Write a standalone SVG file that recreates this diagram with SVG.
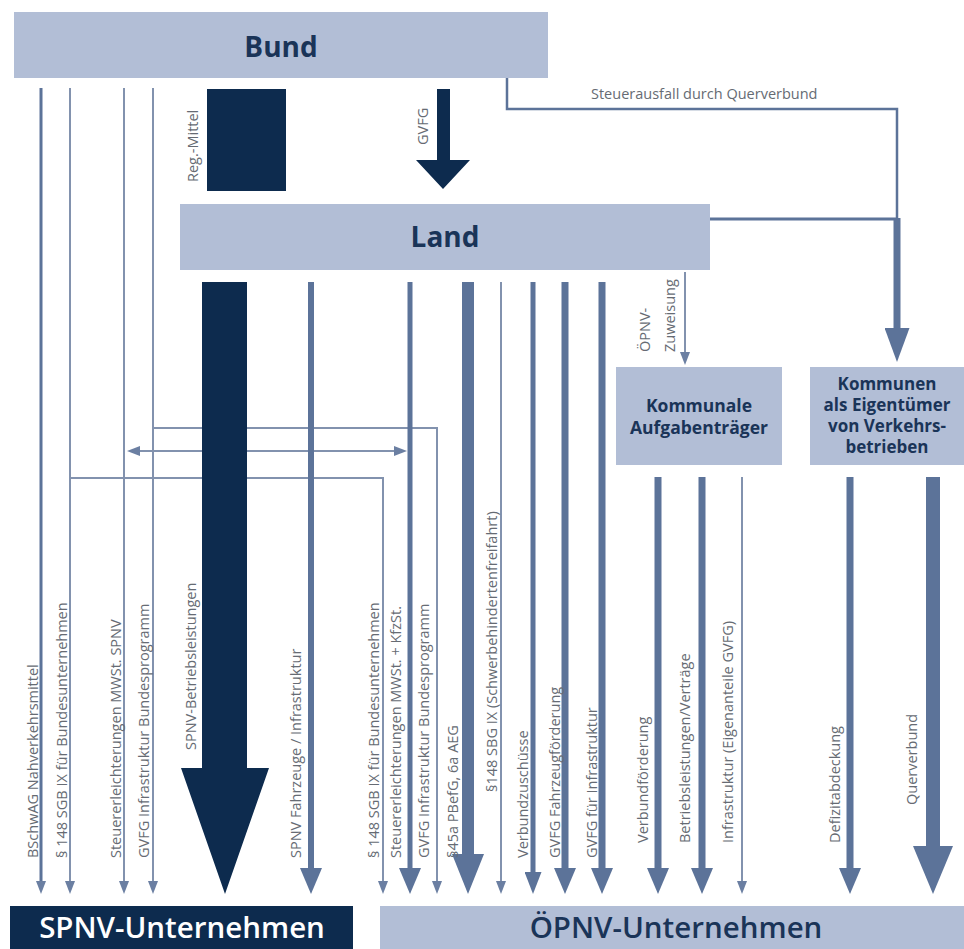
<svg xmlns="http://www.w3.org/2000/svg" width="964" height="949" viewBox="0 0 964 949">
<defs>
<style>
.box{fill:#b2bed6}
.dark{fill:#0d2b4e}
.bt{font-family:"Open Sans","Liberation Sans",sans-serif;font-weight:700;fill:#1a3458;text-anchor:middle}
.lbl{font-family:"Open Sans","Liberation Sans",sans-serif;font-size:14.5px;fill:#666b73}
.ln{stroke:#5c7399;fill:none}
.th{stroke:#8292ae;fill:none;stroke-width:2}
</style>
<marker id="ms" viewBox="0 -5 13 10" refX="0" refY="0" markerWidth="13" markerHeight="10" markerUnits="userSpaceOnUse" orient="auto-start-reverse"><path d="M0,-5L13,0L0,5z" fill="#6b7fa2"/></marker>
<marker id="mm" viewBox="0 -11 26 22" refX="0" refY="0" markerWidth="26" markerHeight="22" markerUnits="userSpaceOnUse" orient="auto"><path d="M0,-11L26,0L0,11z" fill="#5c7399"/></marker>
<marker id="mv" viewBox="0 -8.5 22 17" refX="0" refY="0" markerWidth="22" markerHeight="17" markerUnits="userSpaceOnUse" orient="auto"><path d="M0,-8.5L22,0L0,8.5z" fill="#5c7399"/></marker>
<marker id="mk" viewBox="0 -12.5 34 25" refX="0" refY="0" markerWidth="34" markerHeight="25" markerUnits="userSpaceOnUse" orient="auto"><path d="M0,-12.5L34,0L0,12.5z" fill="#5c7399"/></marker>
<marker id="ml" viewBox="0 -16 40 32" refX="0" refY="0" markerWidth="40" markerHeight="32" markerUnits="userSpaceOnUse" orient="auto"><path d="M0,-16L40,0L0,16z" fill="#5c7399"/></marker>
<marker id="mx" viewBox="0 -20 48 40" refX="0" refY="0" markerWidth="48" markerHeight="40" markerUnits="userSpaceOnUse" orient="auto"><path d="M0,-20L48,0L0,20z" fill="#5c7399"/></marker>
</defs>
<rect width="964" height="949" fill="#ffffff"/>

<g id="connectors">
  <path class="th" d="M153,428 H437 V881" marker-end="url(#ms)"/>
  <path class="th" d="M70,478 H383 V881" marker-end="url(#ms)"/>
  <path class="th" d="M140,451 H394" marker-start="url(#ms)" marker-end="url(#ms)"/>
  <path class="ln" stroke-width="2.5" d="M507,78 V109 H897 V219"/>
  <path class="ln" stroke-width="3" d="M710,219 H897"/>
  <path class="ln" stroke-width="7" d="M897,218 V328" marker-end="url(#mk)"/>
  <path class="ln" stroke-width="3" d="M41,88 V881" marker-end="url(#ms)"/>
  <path class="th" d="M70,88 V881" marker-end="url(#ms)"/>
  <path class="th" d="M124,88 V881" marker-end="url(#ms)"/>
  <path class="th" d="M153,88 V881" marker-end="url(#ms)"/>
  <path class="ln" stroke-width="6" d="M311,282 V868" marker-end="url(#mm)"/>
  <path class="ln" stroke-width="5" d="M410,282 V868" marker-end="url(#mm)"/>
  <path class="ln" stroke-width="12" d="M468,282 V854" marker-end="url(#ml)"/>
  <path class="th" d="M501,282 V881" marker-end="url(#ms)"/>
  <path class="ln" stroke-width="5" d="M533,282 V872" marker-end="url(#mv)"/>
  <path class="ln" stroke-width="7" d="M565,282 V868" marker-end="url(#mm)"/>
  <path class="ln" stroke-width="7" d="M602,282 V868" marker-end="url(#mm)"/>
  <path class="th" d="M685,272 V352" marker-end="url(#ms)"/>
  <path class="ln" stroke-width="7" d="M658,477 V868" marker-end="url(#mm)"/>
  <path class="ln" stroke-width="7" d="M702,477 V868" marker-end="url(#mm)"/>
  <path class="th" d="M742,477 V881" marker-end="url(#ms)"/>
  <path class="ln" stroke-width="7" d="M850,477 V868" marker-end="url(#mm)"/>
  <path class="ln" stroke-width="14" d="M933,477 V846" marker-end="url(#mx)"/>
  <polygon class="dark" points="437,89 450,89 450,160 470,160 443,189 416,160 437,160"/>
  <polygon class="dark" points="202,282 247,282 247,768 269,768 225,894 181,768 202,768"/>
</g>

<g id="labels">
  <text class="lbl" transform="translate(591,99)" font-size="15">Steuerausfall durch Querverbund</text>
  <text class="lbl" transform="translate(198,182) rotate(-90)">Reg.-Mittel</text>
  <text class="lbl" transform="translate(428,145) rotate(-90)">GVFG</text>
  <text class="lbl" transform="translate(650,352) rotate(-90)">ÖPNV-</text>
  <text class="lbl" transform="translate(675,352) rotate(-90)">Zuweisung</text>
  <text class="lbl" transform="translate(38,858) rotate(-90)">BSchwAG Nahverkehrsmittel</text>
  <text class="lbl" transform="translate(67,858) rotate(-90)">§ 148 SGB IX für Bundesunternehmen</text>
  <text class="lbl" transform="translate(121,858) rotate(-90)">Steuererleichterungen MWSt. SPNV</text>
  <text class="lbl" transform="translate(149,858) rotate(-90)">GVFG Infrastruktur Bundesprogramm</text>
  <text class="lbl" transform="translate(196,750) rotate(-90)">SPNV-Betriebsleistungen</text>
  <text class="lbl" transform="translate(301,858) rotate(-90)">SPNV Fahrzeuge / Infrastruktur</text>
  <text class="lbl" transform="translate(379,858) rotate(-90)">§ 148 SGB IX für Bundesunternehmen</text>
  <text class="lbl" transform="translate(401,858) rotate(-90)">Steuererleichterungen MWSt. + KfzSt.</text>
  <text class="lbl" transform="translate(429,858) rotate(-90)">GVFG Infrastruktur Bundesprogramm</text>
  <text class="lbl" transform="translate(458,858) rotate(-90)">§45a PBefG, 6a AEG</text>
  <text class="lbl" transform="translate(497,792) rotate(-90)">§148 SBG IX (Schwerbehindertenfreifahrt)</text>
  <text class="lbl" transform="translate(528,858) rotate(-90)">Verbundzuschüsse</text>
  <text class="lbl" transform="translate(560,858) rotate(-90)">GVFG Fahrzeugförderung</text>
  <text class="lbl" transform="translate(597,858) rotate(-90)">GVFG für Infrastruktur</text>
  <text class="lbl" transform="translate(648,843) rotate(-90)">Verbundförderung</text>
  <text class="lbl" transform="translate(690,843) rotate(-90)">Betriebsleistungen/Verträge</text>
  <text class="lbl" transform="translate(733,843) rotate(-90)">Infrastruktur (Eigenanteile GVFG)</text>
  <text class="lbl" transform="translate(840,843) rotate(-90)">Defizitabdeckung</text>
  <text class="lbl" transform="translate(917,805) rotate(-90)">Querverbund</text>
</g>

<g id="bund">
  <rect class="box" x="14" y="12" width="534" height="66"/>
  <text class="bt" x="281" y="57" font-size="28">Bund</text>
</g>
<g id="reg-mittel">
  <rect class="dark" x="207" y="89" width="79" height="102"/>
</g>
<g id="land">
  <rect class="box" x="180" y="204" width="530" height="66"/>
  <text class="bt" x="445" y="247" font-size="28">Land</text>
</g>
<g id="kommunale">
  <rect class="box" x="616" y="367" width="166" height="98"/>
  <text class="bt" font-size="17.5"><tspan x="699" y="412">Kommunale</tspan><tspan x="699" y="434">Aufgabenträger</tspan></text>
</g>
<g id="kommunen">
  <rect class="box" x="810" y="367" width="154" height="98"/>
  <text class="bt" font-size="17"><tspan x="887" y="390">Kommunen</tspan><tspan x="887" y="411">als Eigentümer</tspan><tspan x="887" y="432">von Verkehrs-</tspan><tspan x="887" y="453">betrieben</tspan></text>
</g>
<g id="spnv">
  <rect class="dark" x="10" y="906" width="343" height="43"/>
  <text class="bt" x="182" y="938" font-size="29.5" style="fill:#ffffff;font-weight:600">SPNV-Unternehmen</text>
</g>
<g id="oepnv">
  <rect class="box" x="380" y="906" width="584" height="43"/>
  <text class="bt" x="676" y="938" font-size="29.5" style="font-weight:600">ÖPNV-Unternehmen</text>
</g>
</svg>
